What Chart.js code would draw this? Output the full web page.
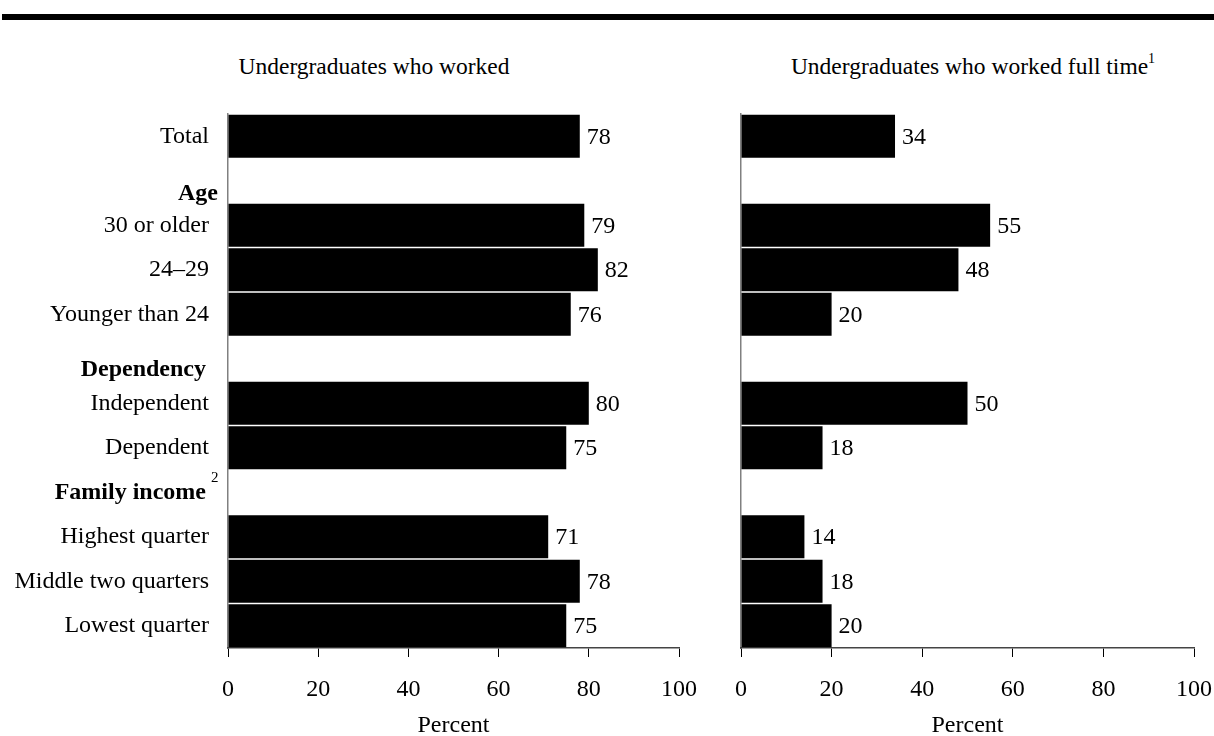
<!DOCTYPE html>
<html>
<head>
<meta charset="utf-8">
<script src="https://cdn.jsdelivr.net/npm/chart.js@4/dist/chart.umd.min.js"></script>
<style>
    body { margin: 0; background: #fff; width: 1214px; height: 736px; position: relative; overflow: hidden; font-family: "Liberation Serif", "Times New Roman", serif; }
    .rule { position: absolute; left: 2px; right: 0; top: 14px; height: 6px; background: #000; }
    .ttl { position: absolute; top: 52px; font-size: 23.5px; line-height: 28px; white-space: nowrap; transform: translateX(-50%); color: #000; }
    .ttl sup { font-size: 14px; vertical-align: 11px; line-height: 0; color: #000; }
    .box { position: absolute; top: 0; height: 740px; }
</style>
</head>
<body>
<div class="rule"></div>
<div class="ttl" style="left:374px">Undergraduates who worked</div>
<div class="ttl" style="left:973px">Undergraduates who worked full time<sup>1</sup></div>
<div class="box" style="left:0; width:715px"><canvas id="workedChart"></canvas></div>
<div class="box" style="left:700px; width:530px"><canvas id="fullTimeChart"></canvas></div>

<script>
// Rows, top to bottom (group headers have no bar)
const categories = ['Total', 'Age', '30 or older', '24\u201329', 'Younger than 24',
    'Dependency', 'Independent', 'Dependent',
    'Family income', 'Highest quarter', 'Middle two quarters', 'Lowest quarter'];
const headers = ['Age', 'Dependency', 'Family income'];

// Percent of undergraduates
const workedValues   = [78, null, 79, 82, 76, null, 80, 75, null, 71, 78, 75];
const fullTimeValues = [34, null, 55, 48, 20, null, 50, 18, null, 14, 18, 20];

const xTicks = [0, 20, 40, 60, 80, 100];

// small nudges for the bold group headers [dx, dy] and their footnote marks
const headerNudge = { 'Age': [9, 13], 'Dependency': [-3, 11], 'Family income': [-3, 1] };
const headerNote = { 'Family income': '2' };

const FONT = '"Liberation Serif", "Times New Roman", serif';
const AREA_TOP = 114;
const AREA_BOTTOM = 648;
const BOX_H = 740;

// value labels at the end of each bar
const valueLabels = {
    id: 'valueLabels',
    afterDatasetsDraw(chart) {
        const ctx = chart.ctx;
        const ds = chart.data.datasets[0];
        ctx.save();
        ctx.font = '24px ' + FONT;
        ctx.fillStyle = '#000';
        ctx.textAlign = 'left';
        ctx.textBaseline = 'middle';
        chart.getDatasetMeta(0).data.forEach((bar, i) => {
            const v = ds.data[i];
            if (v === null) return;
            ctx.fillText(v, bar.x + 7, bar.y + 1);
        });
        ctx.restore();
    }
};

// bold group headers on the left chart
const groupHeaders = {
    id: 'groupHeaders',
    afterDraw(chart) {
        if (!chart.options.plugins.groupHeaders.show) return;
        const ctx = chart.ctx;
        const y = chart.scales.y;
        ctx.save();
        ctx.fillStyle = '#000';
        ctx.textBaseline = 'middle';
        headers.forEach(h => {
            const i = categories.indexOf(h);
            const nudge = headerNudge[h] || [0, 0];
            const px = y.right - 19 + nudge[0];
            const py = y.getPixelForValue(i) + nudge[1];
            ctx.font = 'bold 24px ' + FONT;
            ctx.textAlign = 'right';
            ctx.fillText(h, px, py);
            if (headerNote[h]) {
                ctx.font = '15px ' + FONT;
                ctx.textAlign = 'left';
                ctx.fillText(headerNote[h], px + 5, py - 15);
            }
        });
        ctx.restore();
    }
};

function makeChart(id, values, yWidth, showLabels) {
    return new Chart(document.getElementById(id), {
        type: 'bar',
        data: {
            labels: categories,
            datasets: [{
                data: values,
                backgroundColor: '#000',
                borderWidth: 0,
                barPercentage: 0.965,
                categoryPercentage: 1
            }]
        },
        options: {
            indexAxis: 'y',
            responsive: true,
            maintainAspectRatio: false,
            animation: false,
            layout: { padding: { top: AREA_TOP, right: 0, left: 0, bottom: 0 } },
            plugins: {
                legend: { display: false },
                tooltip: { enabled: false },
                groupHeaders: { show: showLabels }
            },
            scales: {
                y: {
                    afterFit: s => { s.width = yWidth; },
                    grid: { display: false, drawTicks: false },
                    border: { display: true, color: '#808080', width: 1.5 },
                    ticks: {
                        display: showLabels,
                        padding: 19,
                        color: '#000',
                        font: { family: FONT, size: 24 },
                        callback: function(v, i) {
                            const lab = categories[i];
                            return headers.includes(lab) ? '' : lab;
                        }
                    }
                },
                x: {
                    min: 0,
                    max: 100,
                    afterFit: s => { s.height = BOX_H - AREA_BOTTOM; },
                    afterBuildTicks: s => { s.ticks = xTicks.map(v => ({ value: v })); },
                    grid: { drawOnChartArea: false, drawTicks: true, tickLength: 9, color: '#000', lineWidth: 1 },
                    border: { display: true, color: '#444', width: 1.5 },
                    ticks: {
                        padding: 18,
                        color: '#000',
                        font: { family: FONT, size: 24 }
                    },
                    title: {
                        display: true,
                        text: 'Percent',
                        color: '#000',
                        padding: { top: 0, bottom: 0 },
                        font: { family: FONT, size: 24 }
                    }
                }
            }
        },
        plugins: [valueLabels, groupHeaders]
    });
}

makeChart('workedChart', workedValues, 228, true);
makeChart('fullTimeChart', fullTimeValues, 41, false);
</script>
</body>
</html>
